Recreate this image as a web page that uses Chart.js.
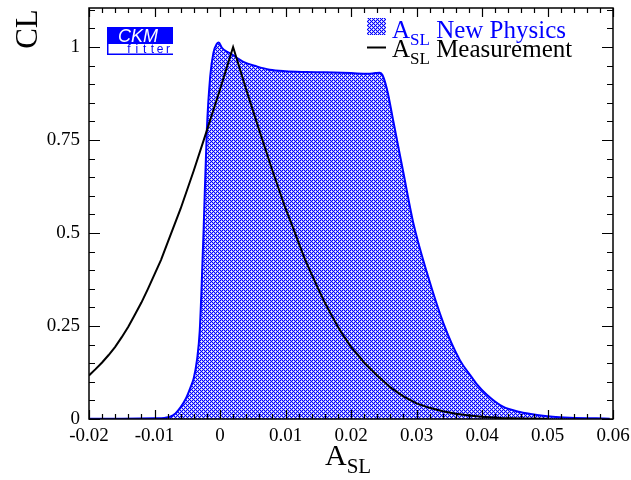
<!DOCTYPE html>
<html>
<head>
<meta charset="utf-8">
<script src="https://cdn.jsdelivr.net/npm/chart.js@4"></script>
<style>
  html, body { margin: 0; padding: 0; background: #fff; }
  #wrap { width: 631px; height: 480px; }
</style>
</head>
<body>
<div id="wrap"><canvas id="clChart" width="631" height="480"></canvas></div>
<script>
// A_SL New Physics (blue hatched band)
var npX = [-0.0200, -0.0150, -0.0100, -0.0085, -0.0076, -0.0068, -0.0060, -0.0052, -0.0045, -0.0040,
           -0.0035, -0.0031, -0.0028, -0.0025, -0.0020, -0.0015, -0.0010, -0.0005, -0.0002, 0.0003,
           0.0010, 0.0015, 0.0025, 0.0035, 0.0056, 0.0076, 0.0100, 0.0130, 0.0160, 0.0200,
           0.0225, 0.0237, 0.0244, 0.0248, 0.0255, 0.0265, 0.0280, 0.0295, 0.0316, 0.0341,
           0.0366, 0.0382, 0.0392, 0.0407, 0.0432, 0.0458, 0.0484, 0.0508, 0.0534, 0.0595];
var npCL = [0.001, 0.001, 0.002, 0.003, 0.006, 0.015, 0.032, 0.055, 0.085, 0.110,
            0.160, 0.235, 0.360, 0.510, 0.780, 0.920, 0.985, 1.008, 1.012, 0.998,
            0.988, 0.984, 0.972, 0.961, 0.948, 0.939, 0.935, 0.933, 0.932, 0.930,
            0.928, 0.930, 0.931, 0.925, 0.886, 0.797, 0.662, 0.528, 0.393, 0.258,
            0.159, 0.118, 0.094, 0.066, 0.033, 0.019, 0.011, 0.006, 0.0035, 0.001];

// A_SL Measurement (black line)
var measX = [-0.020, -0.019, -0.018, -0.017, -0.016, -0.015, -0.014, -0.013, -0.012, -0.011,
             -0.010, -0.009, -0.008, -0.006, -0.004, -0.002, 0.000, 0.001, 0.002, 0.003,
             0.004, 0.006, 0.008, 0.010, 0.011, 0.012, 0.013, 0.014, 0.015, 0.016,
             0.017, 0.018, 0.019, 0.020, 0.022, 0.024, 0.026, 0.028, 0.030, 0.032,
             0.034, 0.036, 0.038, 0.040, 0.043, 0.046, 0.050];
var measCL = [0.117, 0.134, 0.152, 0.172, 0.194, 0.220, 0.248, 0.280, 0.313, 0.350,
              0.389, 0.428, 0.474, 0.566, 0.668, 0.776, 0.886, 0.943, 1.000, 0.943,
              0.886, 0.776, 0.668, 0.566, 0.521, 0.474, 0.428, 0.389, 0.350, 0.313,
              0.280, 0.248, 0.220, 0.194, 0.152, 0.117, 0.085, 0.061, 0.042, 0.030,
              0.021, 0.014, 0.0094, 0.006, 0.003, 0.0015, 0.0005];

var xTickVals = [-0.02, -0.01, 0, 0.01, 0.02, 0.03, 0.04, 0.05, 0.06];
var xTickLabels = ['-0.02', '-0.01', '0', '0.01', '0.02', '0.03', '0.04', '0.05', '0.06'];
var yTickVals = [0, 0.25, 0.5, 0.75, 1];
var yTickLabels = ['0', '0.25', '0.5', '0.75', '1'];

var SERIF = '"Liberation Serif", "Times New Roman", serif';
var BLUE = '#0000ff';

function toPoints(xs, ys) {
    return xs.map(function (x, i) { return { x: x, y: ys[i] }; });
}

// cross hatch pattern: blue mesh with white holes on a diagonal lattice
function hatch() {
    var c = document.createElement('canvas');
    c.width = 4; c.height = 4;
    var g = c.getContext('2d');
    var img = g.createImageData(4, 4);
    var holes = [[1, 1], [3, 3]];
    for (var y = 0; y < 4; y++) {
        for (var x = 0; x < 4; x++) {
            var shade = 0; // 0 blue, 1 white
            holes.forEach(function (h) {
                var dx = Math.min(Math.abs(x - h[0]), 4 - Math.abs(x - h[0]));
                var dy = Math.min(Math.abs(y - h[1]), 4 - Math.abs(y - h[1]));
                if (dx === 0 && dy === 0) shade = 1;
                else if (dx + dy === 1) shade = Math.max(shade, 0.68);
            });
            var k = (y * 4 + x) * 4;
            img.data[k] = Math.round(255 * shade);
            img.data[k + 1] = Math.round(255 * shade);
            img.data[k + 2] = 255;
            img.data[k + 3] = 255;
        }
    }
    g.putImageData(img, 0, 0);
    return g.createPattern(c, 'repeat');
}

// text with a subscript, returns end x
function subText(ctx, x, y, main, sub, size, subSize, color) {
    ctx.fillStyle = color;
    ctx.textAlign = 'left';
    ctx.textBaseline = 'alphabetic';
    ctx.font = size + 'px ' + SERIF;
    ctx.fillText(main, x, y);
    x += ctx.measureText(main).width;
    ctx.font = subSize + 'px ' + SERIF;
    ctx.fillText(sub, x, y + subSize * 0.4);
    return x + ctx.measureText(sub).width;
}

var frameTicks = {
    id: 'frameTicks',
    afterDraw: function (chart) {
        var ctx = chart.ctx, a = chart.chartArea;
        var xs = chart.scales.x, ys = chart.scales.y;
        ctx.save();
        ctx.strokeStyle = '#000';
        ctx.lineWidth = 1.2;
        ctx.beginPath();
        // x ticks (bottom and top), minor every 0.002
        for (var i = 0; i <= 40; i++) {
            var v = -0.02 + i * 0.002;
            var px = Math.round(xs.getPixelForValue(v)) + 0.5;
            var len = (i % 5 === 0) ? 9 : 5;
            ctx.moveTo(px, a.bottom); ctx.lineTo(px, a.bottom - len);
            ctx.moveTo(px, a.top); ctx.lineTo(px, a.top + len);
        }
        // y ticks (left and right), minor every 0.05
        for (var j = 0; j <= 22; j++) {
            var w = j * 0.05;
            var py = Math.round(ys.getPixelForValue(w)) + 0.5;
            var l2 = (j % 5 === 0) ? 11 : 6;
            ctx.moveTo(a.left, py); ctx.lineTo(a.left + l2, py);
            ctx.moveTo(a.right, py); ctx.lineTo(a.right - l2, py);
        }
        ctx.stroke();
        ctx.lineWidth = 1.5;
        ctx.strokeRect(a.left, a.top, a.right - a.left, a.bottom - a.top);

        // axis titles
        ctx.save();
        ctx.translate(29, 29);
        ctx.rotate(-Math.PI / 2);
        ctx.fillStyle = '#000';
        ctx.font = '31px ' + SERIF;
        ctx.textAlign = 'center';
        ctx.textBaseline = 'middle';
        ctx.fillText('CL', 0, 0);
        ctx.restore();
        subText(ctx, 325, 465, 'A', 'SL', 30, 21, '#000');

        // legend
        ctx.fillStyle = hatchFill;
        ctx.fillRect(367, 18, 19, 17);
        var ex = subText(ctx, 392, 38, 'A', 'SL', 25, 17, BLUE);
        ctx.font = '25px ' + SERIF;
        ctx.fillText(' New Physics', ex, 38);
        ctx.strokeStyle = '#000';
        ctx.lineWidth = 2;
        ctx.beginPath();
        ctx.moveTo(367, 47.5); ctx.lineTo(386, 47.5);
        ctx.stroke();
        ex = subText(ctx, 392, 57, 'A', 'SL', 25, 17, '#000');
        ctx.font = '25px ' + SERIF;
        ctx.fillText(' Measurement', ex, 57);

        // CKMfitter logo
        ctx.fillStyle = BLUE;
        ctx.fillRect(107, 27, 66, 17);
        ctx.fillStyle = '#fff';
        ctx.font = 'italic 18px "Liberation Sans", Arial, sans-serif';
        ctx.textAlign = 'center';
        ctx.fillText('CKM', 138, 42);
        ctx.strokeStyle = BLUE;
        ctx.lineWidth = 1.5;
        ctx.beginPath();
        ctx.moveTo(107.75, 44); ctx.lineTo(107.75, 54.25); ctx.lineTo(173, 54.25);
        ctx.stroke();
        ctx.fillStyle = BLUE;
        ctx.font = '12px "Liberation Sans", Arial, sans-serif';
        var letters = 'fitter';
        for (var k = 0; k < letters.length; k++) {
            ctx.fillText(letters[k], 129 + k * 7.8, 53);
        }
        ctx.restore();
    }
};

var ctx = document.getElementById('clChart').getContext('2d');
var hatchFill = hatch();

var clChart = new Chart(ctx, {
    type: 'line',
    data: {
        datasets: [{
            label: 'A_SL Measurement',
            data: toPoints(measX, measCL),
            borderColor: '#000',
            borderWidth: 2,
            pointRadius: 0,
            tension: 0,
            fill: false,
            order: 0
        }, {
            label: 'A_SL New Physics',
            data: toPoints(npX, npCL),
            borderColor: BLUE,
            borderWidth: 2,
            backgroundColor: hatchFill,
            pointRadius: 0,
            cubicInterpolationMode: 'monotone',
            fill: 'origin',
            order: 1
        }]
    },
    options: {
        responsive: false,
        animation: false,
        layout: { padding: { top: 8, right: 18, left: 0, bottom: 0 } },
        plugins: {
            legend: { display: false },
            tooltip: { enabled: false }
        },
        scales: {
            x: {
                type: 'linear',
                min: -0.02,
                max: 0.06,
                grid: { display: false, drawTicks: false },
                border: { display: false },
                afterBuildTicks: function (s) {
                    s.ticks = xTickVals.map(function (v) { return { value: v }; });
                },
                afterFit: function (s) {
                    s.height = 61;
                    s.paddingLeft = 0; s.paddingRight = 0;
                },
                ticks: {
                    padding: 6,
                    color: '#000',
                    maxRotation: 0,
                    autoSkip: false,
                    font: { family: SERIF, size: 19 },
                    callback: function (v) {
                        var i = xTickVals.findIndex(function (t) { return Math.abs(t - v) < 1e-9; });
                        return i >= 0 ? xTickLabels[i] : '';
                    }
                }
            },
            y: {
                type: 'linear',
                min: 0,
                max: 1.105,
                grid: { display: false, drawTicks: false },
                border: { display: false },
                afterBuildTicks: function (s) {
                    s.ticks = yTickVals.map(function (v) { return { value: v }; });
                },
                afterFit: function (s) {
                    s.width = 89;
                    s.paddingTop = 0; s.paddingBottom = 0;
                },
                ticks: {
                    padding: 9,
                    color: '#000',
                    autoSkip: false,
                    font: { family: SERIF, size: 19 },
                    callback: function (v) {
                        var i = yTickVals.findIndex(function (t) { return Math.abs(t - v) < 1e-9; });
                        return i >= 0 ? yTickLabels[i] : '';
                    }
                }
            }
        }
    },
    plugins: [frameTicks]
});
</script>
</body>
</html>
